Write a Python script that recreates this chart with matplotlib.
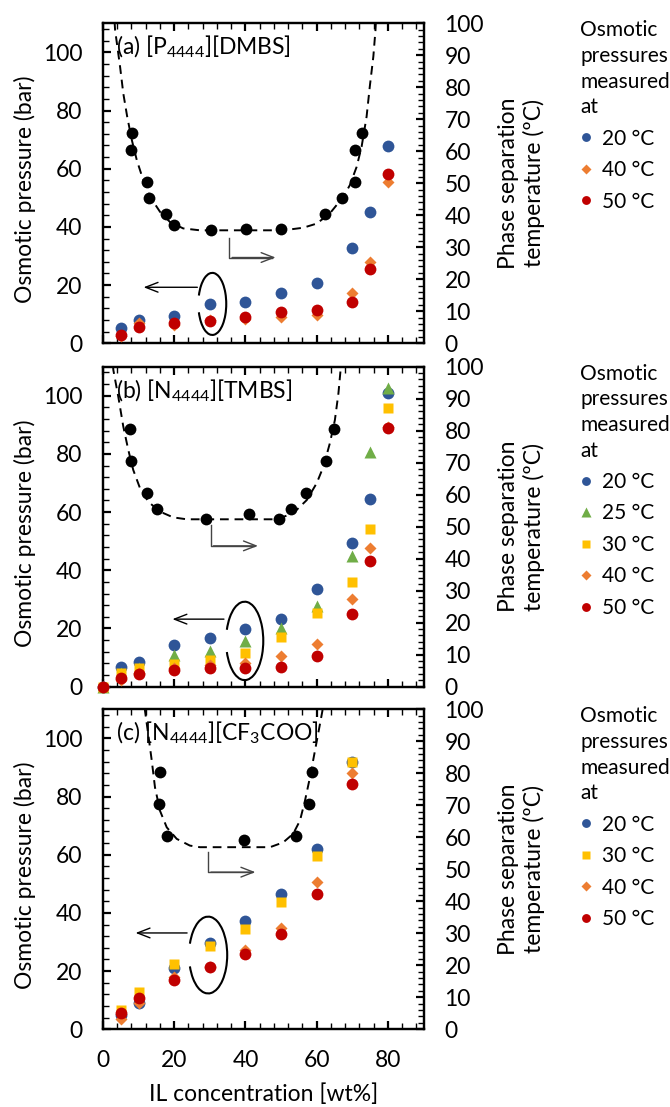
import matplotlib
matplotlib.use('Agg')
import matplotlib.pyplot as plt
from matplotlib.patches import Arc
from matplotlib.ticker import MultipleLocator

plt.rcParams['font.family'] = ['Lato', 'DejaVu Sans']
plt.rcParams['mathtext.fontset'] = 'custom'
plt.rcParams['mathtext.rm'] = 'Lato'
plt.rcParams['mathtext.it'] = 'Lato:italic'

FS = 16.5
LFS = 15

# ---- (a) [P4444][DMBS] ----
a_x = [5, 10, 20, 30, 40, 50, 60, 70, 75, 80]
a_p20 = [5.1, 8.0, 9.5, 13.5, 14.3, 17.4, 20.8, 32.6, 45.0, 67.9]
a_p40 = [2.6, 6.9, 6.3, 8.0, 8.2, 9.1, 9.7, 17.4, 28.0, 55.4]
a_p50 = [2.8, 5.5, 6.9, 7.6, 8.9, 10.8, 11.4, 14.3, 25.7, 58.3]
a_tx = [8.05, 8.0, 12.3, 13.0, 17.7, 19.9, 30.3, 40.1, 50.0, 62.3, 67.2, 70.7, 70.7, 72.6]
a_tt = [65.6, 60.4, 50.5, 45.4, 40.3, 37.0, 35.3, 35.7, 35.7, 40.5, 45.4, 50.5, 60.4, 65.6]
a_cx = [3.0, 3.4, 4.8, 5.7, 6.8, 8.1, 9.5, 11.3, 13.2, 16.0, 18.8, 22.5, 27.2, 50.6,
        56.2, 60.0, 63.7, 67.5, 69.3, 71.2, 72.6, 74.0, 74.9, 75.9, 76.5, 76.8]
a_ct = [105, 97.9, 86.4, 78.1, 70.8, 63.5, 57.2, 51.0, 45.8, 41.1, 37.9, 35.9, 35.3, 35.3,
        36.1, 37.4, 40.6, 45.8, 49.4, 55.1, 61.4, 70.8, 80.2, 89.6, 97.9, 105]

# ---- (b) [N4444][TMBS] ----
b_x = [0, 5, 10, 20, 30, 40, 50, 60, 70, 75, 80]
b_p20 = [0, 6.7, 8.4, 14.3, 16.6, 19.8, 23.2, 33.5, 49.3, 64.4, 101.0]
b_p25 = [0, 4.8, 6.5, 10.9, 12.3, 15.7, 20.1, 27.7, 44.9, 80.8, 102.6]
b_p30 = [0, 4.6, 6.3, 7.8, 9.2, 11.7, 17.2, 25.2, 36.1, 54.1, 95.7]
b_p40 = [0, 2.3, 4.6, 6.3, 7.5, 8.3, 10.6, 14.6, 30.0, 47.6, 89.4]
b_p50 = [0, 2.9, 4.4, 5.7, 6.3, 6.3, 6.9, 10.7, 25.0, 43.3, 88.8]
b_tx = [7.6, 7.9, 12.3, 15.3, 28.9, 41.1, 49.5, 52.8, 57.0, 62.6, 64.8]
b_tt = [80.5, 70.6, 60.6, 55.4, 52.3, 53.9, 52.3, 55.4, 60.6, 70.6, 80.5]
b_cx = [2.6, 2.9, 4.3, 5.7, 7.1, 8.5, 10.4, 12.7, 16.0, 19.7, 23.5, 48.8, 53.4,
        57.2, 60.0, 61.9, 63.7, 65.1, 66.1, 66.7, 66.9]
b_ct = [105, 99.0, 90.6, 81.3, 74.0, 67.7, 62.0, 57.8, 54.7, 52.9, 52.3, 52.3, 54.2,
        58.3, 63.6, 68.8, 76.1, 83.3, 91.7, 99.0, 105]

# ---- (c) [N4444][CF3COO] ----
c_x = [5, 10, 20, 30, 40, 50, 60, 70]
c_p20 = [4.9, 8.9, 20.9, 29.5, 37.2, 46.4, 62.0, 91.7]
c_p30 = [6.6, 12.9, 22.6, 28.7, 34.6, 43.7, 59.4, 91.7]
c_p40 = [3.5, 9.1, 18.0, 21.5, 27.2, 34.8, 50.6, 88.1]
c_p50 = [5.7, 10.8, 16.9, 21.5, 25.8, 32.7, 46.4, 84.3]
c_tx = [16.0, 15.7, 17.9, 39.7, 54.1, 57.8, 58.8]
c_tt = [80.5, 70.4, 60.5, 59.2, 60.5, 70.4, 80.5]
c_cx = [11.6, 11.8, 12.7, 13.7, 14.6, 16.0, 17.9, 20.7, 24.4, 27.2, 46.9, 50.6, 53.4,
        55.3, 56.7, 58.1, 59.5, 60.9, 61.6, 61.8]
c_ct = [105, 99.5, 92.2, 83.9, 75.6, 68.3, 63.1, 59.5, 57.4, 56.9, 56.9, 58.4, 61.1,
        65.2, 71.4, 78.7, 87.0, 95.3, 99.5, 105]

# marker styles per temperature
styles = {
    '20 °C': dict(marker='o', color='#2F5597', ms=8.5),
    '25 °C': dict(marker='^', color='#70AD47', ms=9),
    '30 °C': dict(marker='s', color='#FFC000', ms=7.8),
    '40 °C': dict(marker='D', color='#ED7D31', ms=6.5),
    '50 °C': dict(marker='o', color='#C00000', ms=8.5),
}

fig = plt.figure(figsize=(6.7, 11.07), dpi=100)

panels = [
    dict(bottom=0.6899, title='(a) [P$_{4444}$][DMBS]', x=a_x,
         series=[('20 °C', a_p20), ('40 °C', a_p40), ('50 °C', a_p50)],
         tx=a_tx, tt=a_tt, cx=a_cx, ct=a_ct,
         arc=(0.341, 0.123, 0.087, 0.194), larrow=(0.303, 0.118, 0.175),
         hook=(0.394, 0.328, 0.268, 0.547)),
    dict(bottom=0.3797, title='(b) [N$_{4444}$][TMBS]', x=b_x,
         series=[('20 °C', b_p20), ('25 °C', b_p25), ('30 °C', b_p30),
                 ('40 °C', b_p40), ('50 °C', b_p50)],
         tx=b_tx, tt=b_tt, cx=b_cx, ct=b_ct,
         arc=(0.442, 0.143, 0.116, 0.245), larrow=(0.386, 0.208, 0.211),
         hook=(0.336, 0.505, 0.440, 0.492)),
    dict(bottom=0.0702, title='(c) [N$_{4444}$][CF$_3$COO]', x=c_x,
         series=[('20 °C', c_p20), ('30 °C', c_p30), ('40 °C', c_p40), ('50 °C', c_p50)],
         tx=c_tx, tt=c_tt, cx=c_cx, ct=c_ct,
         arc=(0.328, 0.232, 0.119, 0.240), larrow=(0.271, 0.093, 0.301),
         hook=(0.328, 0.553, 0.491, 0.484)),
]

for i, p in enumerate(panels):
    ax = fig.add_axes([0.1537, p['bottom'], 0.4785, 0.2891])
    ax2 = ax.twinx()
    ax.set_zorder(ax2.get_zorder() + 1)
    ax.patch.set_visible(False)

    handles = []
    for lab, vals in p['series']:
        st = styles[lab]
        h, = ax.plot(p['x'], vals, ls='none', marker=st['marker'], ms=st['ms'],
                     color=st['color'], mec='none', label=lab, clip_on=False, zorder=3)
        handles.append(h)

    # phase separation temperature on the right axis
    ax2.plot(p['cx'], p['ct'], ls=(0, (4.5, 3)), color='black', lw=1.4)
    ax2.plot(p['tx'], p['tt'], ls='none', marker='o', ms=8.5, color='black', mec='none')

    ax.set_xlim(0, 90)
    ax.set_ylim(0, 110)
    ax2.set_ylim(0, 100)

    ax.xaxis.set_major_locator(MultipleLocator(20))
    ax.xaxis.set_minor_locator(MultipleLocator(4))
    ax.yaxis.set_major_locator(MultipleLocator(20))
    ax.yaxis.set_minor_locator(MultipleLocator(4))
    ax2.yaxis.set_major_locator(MultipleLocator(10))
    ax2.yaxis.set_minor_locator(MultipleLocator(2))

    ax.tick_params(which='both', direction='in', top=True, right=False,
                   labelsize=FS, pad=15)
    ax.tick_params(axis='x', which='both', pad=15)
    ax.tick_params(which='major', length=6, width=1.6)
    ax.tick_params(which='minor', length=4, width=1.0)
    ax2.tick_params(which='both', direction='in', labelsize=FS, pad=15)
    ax2.tick_params(which='major', length=6, width=1.6)
    ax2.tick_params(which='minor', length=4, width=1.0)
    if i < 2:
        ax.tick_params(labelbottom=False)
    else:
        ax.set_xlabel('IL concentration [wt%]', fontsize=FS, labelpad=9)

    for a in (ax, ax2):
        for s in a.spines.values():
            s.set_linewidth(1.6)

    ax.set_ylabel('Osmotic pressure (bar)', fontsize=FS)
    ax.yaxis.set_label_coords(-0.208, 0.48)
    ax2.set_ylabel('Phase separation\ntemperature (ºC)', fontsize=FS,
                   va='center', ha='center', multialignment='center', linespacing=1.25)
    ax2.yaxis.set_label_coords(1.305, 0.5)

    ax.text(0.04, 0.925, p['title'], transform=ax.transAxes, fontsize=FS,
            va='center', ha='left')

    # guide marks: ellipse around osmotic data, arrows to each axis
    cx0, cy0, w, hh = p['arc']
    ax.add_patch(Arc((cx0, cy0), w, hh, theta1=-148, theta2=148,
                     transform=ax.transAxes, color='black', lw=1.5))
    x0, x1, yy = p['larrow']
    ax.annotate('', xy=(x1, yy), xytext=(x0, yy), xycoords='axes fraction',
                arrowprops=dict(arrowstyle='->,head_length=0.9,head_width=0.35',
                                color='black', lw=1.0))
    hx, hy0, hy1, hx1 = p['hook']
    ax.plot([hx, hx, hx1 - 0.02], [hy0, hy1, hy1], transform=ax.transAxes,
            color='#444444', lw=1.0)
    ax.annotate('', xy=(hx1, hy1), xytext=(hx, hy1), xycoords='axes fraction',
                arrowprops=dict(arrowstyle='->,head_length=0.9,head_width=0.35',
                                color='#444444', lw=1.0))

    leg = ax.legend(handles=handles, loc='upper left', bbox_to_anchor=(1.462, 1.035),
                    frameon=False, fontsize=LFS, title='Osmotic\npressures\nmeasured\nat',
                    title_fontsize=LFS, alignment='left', handlelength=0.6,
                    handletextpad=0.45, labelspacing=0.55, borderaxespad=0,
                    markerscale=0.75)
    leg.get_title().set_linespacing(1.35)

fig.savefig('out.png', dpi=100)
